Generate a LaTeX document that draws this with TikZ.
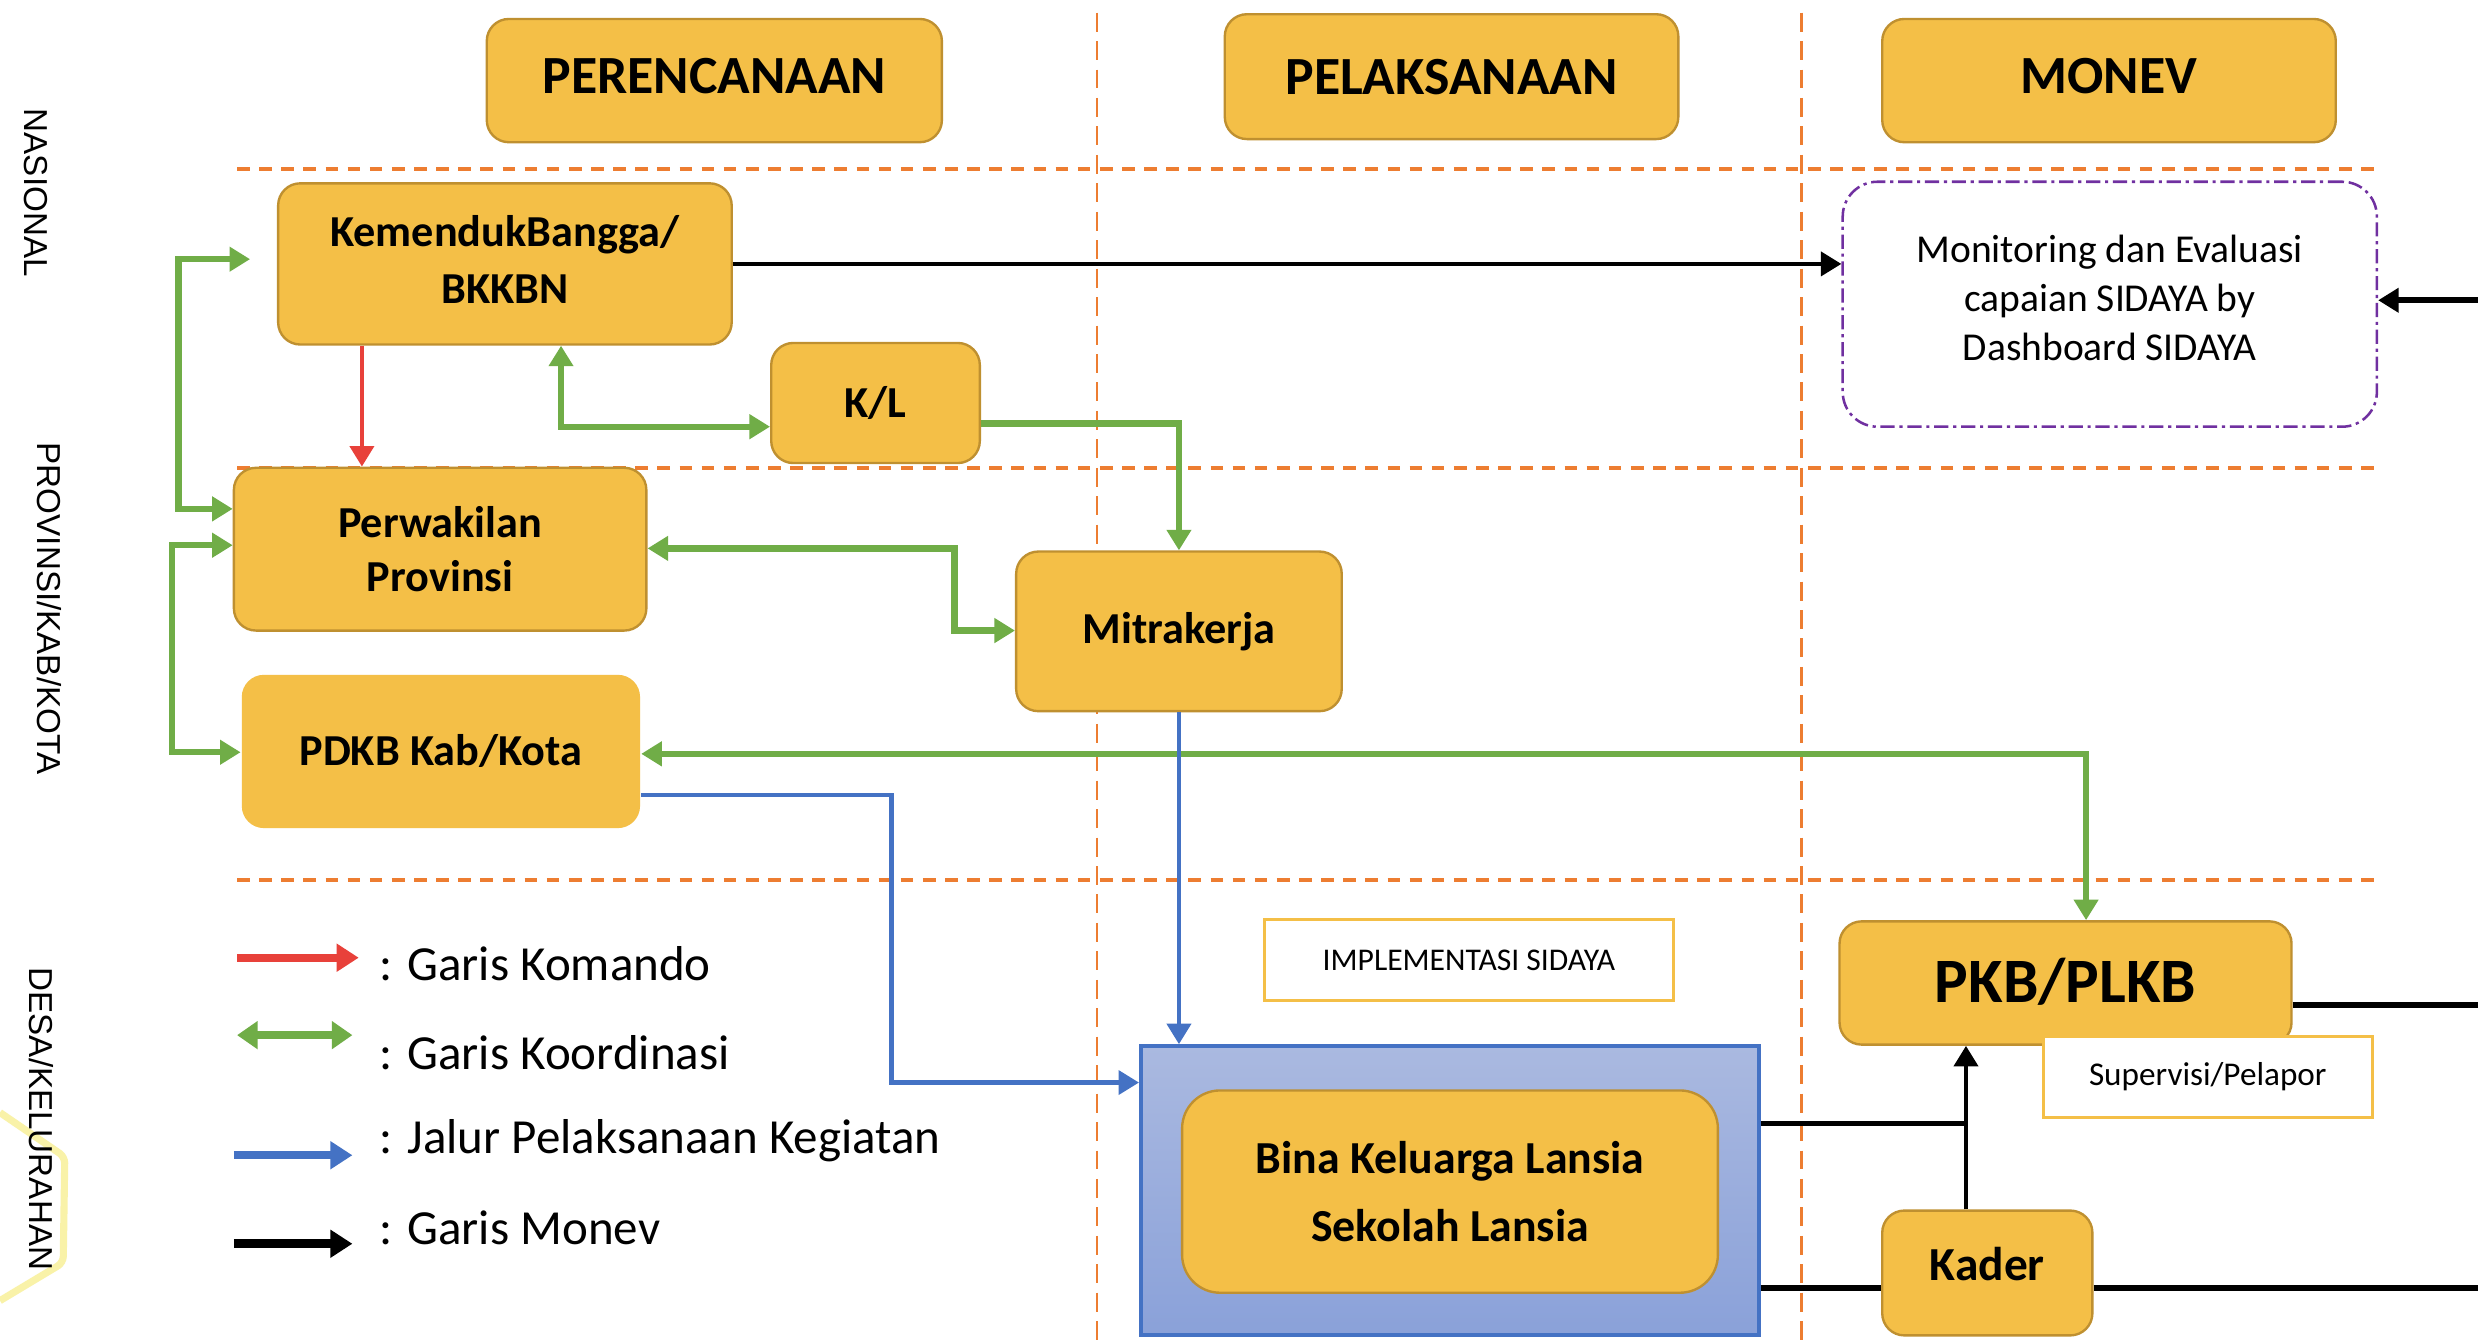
\documentclass[tikz,border=0pt]{standalone}
\usepackage{fontspec}
\setmainfont{Carlito}
\newfontfamily\sidefont{Liberation Sans}
\usetikzlibrary{arrows.meta}
\definecolor{gold}{HTML}{F4BF47}
\definecolor{goldline}{HTML}{BF9030}
\definecolor{orng}{HTML}{ED7D31}
\definecolor{grn}{HTML}{70AD47}
\definecolor{blu}{HTML}{4472C4}
\definecolor{rd}{HTML}{E8413A}
\definecolor{purp}{HTML}{7030A0}
\definecolor{bluetop}{HTML}{AAB9E0}
\definecolor{bluebot}{HTML}{8AA1D9}
\definecolor{faintyel}{HTML}{F9F2A8}
\newcommand\myfs[2]{\fontsize{#1}{#2}\selectfont}
\begin{document}
\begin{tikzpicture}[x=1pt,y=-1pt,
  goldbox/.style={draw=goldline, line width=1.5pt, fill=gold, rounded corners=14pt, inner sep=0pt, align=center},
  plainbox/.style={draw=gold, line width=1.8pt, fill=white, inner sep=0pt, align=center},
  hdash/.style={draw=orng, line width=2.5pt, dash pattern=on 8pt off 6pt},
  vdash/.style={draw=orng, line width=1.5pt, dash pattern=on 12pt off 6pt},
  tip/.style={-{Triangle[length=13pt,width=15pt]}},
  dtip/.style={{Triangle[length=13pt,width=15pt]}-{Triangle[length=13pt,width=15pt]}},
  gline/.style={draw=grn, line width=4pt},
  bline/.style={draw=blu, line width=3pt},
  rline/.style={draw=rd, line width=3pt},
  kline/.style={draw=black, line width=3pt},
  legtext/.style={anchor=west, inner sep=0pt, font=\myfs{31}{36}},
  sidelab/.style={rotate=-90, inner sep=0pt, font=\sidefont\myfs{21}{24}}
]
\useasboundingbox (0,0) rectangle (1568,848);
\fill[white] (0,0) rectangle (1568,848);

% faint shape at left
\draw[faintyel, line width=4.5pt, rounded corners=4pt] (0,704) -- (41,732) -- (40,799) -- (0,823);

% grid lines
\draw[vdash] (694,8) -- (694,848);
\draw[vdash] (1140,8) -- (1140,848);
\draw[hdash] (150,107) -- (1505,107);
\draw[hdash] (150,296) -- (1505,296);
\draw[hdash] (150,557) -- (1505,557);

% side labels
\node[sidelab] (sNas) at (23,122) {NASIONAL};
\node[sidelab] (sProv) at (31,385) {PROVINSI/KAB/KOTA};
\node[sidelab] (sDesa) at (26,708) {DESA/KELURAHAN};

% headers
\node[goldbox, minimum width=288pt, minimum height=78pt, text depth=6pt, font=\bfseries\myfs{34}{40}] (hper) at (452,51) {PERENCANAAN};
\node[goldbox, minimum width=287pt, minimum height=79pt, font=\bfseries\myfs{34}{40}] (hpel) at (918.5,48.5) {PELAKSANAAN};
\node[goldbox, minimum width=287pt, minimum height=78pt, text depth=6pt, font=\bfseries\myfs{34}{40}] (hmon) at (1334.5,51) {MONEV};

% main nodes
\node[goldbox, minimum width=287pt, minimum height=102pt, font=\bfseries\myfs{28}{36}] (kem) at (319.5,167) {};
\node[inner sep=0pt, align=center, font=\bfseries\myfs{28}{36}] (kemText) at (319.5,164) {KemendukBangga/\\BKKBN};
\node[goldbox, minimum width=132pt, minimum height=76pt, font=\bfseries\myfs{28}{34}] (kl) at (554,255) {K/L};
\node[goldbox, minimum width=261pt, minimum height=103pt, font=\bfseries\myfs{28}{34}] (per) at (278.5,347.5) {Perwakilan\\Provinsi};
\node[goldbox, draw=none, minimum width=252pt, minimum height=97pt, font=\bfseries\myfs{28}{34}] (pdkb) at (279,475.5) {PDKB Kab/Kota};
\node[goldbox, minimum width=206pt, minimum height=101pt, font=\bfseries\myfs{28}{34}] (mit) at (746,399.5) {Mitrakerja};
\node[draw=purp, line width=1.6pt, dash pattern=on 9pt off 3pt on 2pt off 3pt, rounded corners=22pt, fill=white, minimum width=338pt, minimum height=155pt, inner sep=0pt] (mon) at (1335,192.5) {};
\node[inner sep=0pt, align=center, font=\myfs{25}{31}] (monText) at (1335,188.5) {Monitoring dan Evaluasi\\capaian SIDAYA by\\Dashboard SIDAYA};

\node[plainbox, minimum width=259pt, minimum height=51pt, font=\myfs{20}{24}] (impl) at (929.5,607.5) {IMPLEMENTASI SIDAYA};
\node[goldbox, minimum width=286pt, minimum height=78pt, text depth=4pt, font=\bfseries\myfs{40}{46}] (pkb) at (1307,622) {PKB/PLKB};
\node[plainbox, minimum width=208pt, minimum height=51pt, font=\myfs{21}{24}] (sup) at (1397,681.5) {Supervisi/Pelapor};

\node[draw=blu, line width=2.5pt, top color=bluetop, bottom color=bluebot, minimum width=391pt, minimum height=183pt, inner sep=0pt] (bbox) at (917.5,753.5) {};
\node[goldbox, minimum width=339pt, minimum height=128pt, rounded corners=24pt, font=\bfseries\myfs{29}{43}] (bina) at (917.5,754) {Bina Keluarga Lansia\\Sekolah Lansia};
\node[goldbox, minimum width=133pt, minimum height=79pt, text depth=12pt, font=\bfseries\myfs{30}{36}] (kader) at (1257.5,805.5) {Kader};

% connectors
\coordinate (rx) at (229,0);
\draw[rline, tip] (kem.south -| rx) -- (per.north -| rx);

\coordinate (g1) at (355,270);
\draw[gline, dtip] (kem.south -| g1) |- (kl.west |- g1);

\coordinate (g2) at (746,268);
\draw[gline, tip] (kl.east |- g2) -| (mit.north);

\coordinate (g3a) at (604,347);
\coordinate (g3b) at (604,399);
\draw[gline, dtip] (per.east |- g3a) -- (g3a) -- (g3b) -- (mit.west |- g3b);

\coordinate (g4a) at (113,164);
\coordinate (g4b) at (113,322);
\draw[gline, dtip, shorten <=17pt] (kem.west |- g4a) -- (g4a) -- (g4b) -- (per.west |- g4b);

\coordinate (g5a) at (109,345);
\coordinate (g5b) at (109,476);
\draw[gline, dtip] (per.west |- g5a) -- (g5a) -- (g5b) -- (pdkb.west |- g5b);

\coordinate (g6) at (1320,477);
\draw[gline, dtip] (pdkb.east |- g6) -| (pkb.north -| g6);

\coordinate (b1a) at (564,503);
\coordinate (b1b) at (564,685);
\draw[bline, tip] (pdkb.east |- b1a) -- (b1a) -- (b1b) -- (bbox.west |- b1b);
\draw[bline, tip] (mit.south) -- (bbox.north -| mit.south);

\draw[kline, tip] (kem.east) -- (mon.west |- kem.east);
\coordinate (e1) at (1568,190);
\draw[kline, line width=4pt, tip] (e1) -- (mon.east |- e1);

\coordinate (k1) at (1244,711);
\draw[kline] (bbox.east |- k1) -- (k1);
\draw[kline, tip] (kader.north -| k1) -- (pkb.south -| k1);

\coordinate (e2) at (1568,636);
\draw[kline, line width=4pt] (pkb.east |- e2) -- (e2);

\coordinate (e3) at (1568,815);
\draw[kline, line width=4pt] (bbox.east |- e3) -- (kader.west |- e3);
\draw[kline, line width=4pt] (kader.east |- e3) -- (e3);

% legend
\coordinate (l1a) at (150,606);
\coordinate (l1b) at (227,606);
\draw[draw=rd, line width=5pt, -{Triangle[length=14pt,width=17pt]}] (l1a) -- (l1b);
\node[legtext] (t1) at (240,610) {: Garis Komando};

\coordinate (l2a) at (150,655);
\coordinate (l2b) at (223,655);
\draw[draw=grn, line width=5pt, {Triangle[length=13pt,width=17pt]}-{Triangle[length=13pt,width=17pt]}] (l2a) -- (l2b);
\node[legtext] (t2) at (240,666) {: Garis Koordinasi};

\coordinate (l3a) at (148,731);
\coordinate (l3b) at (223,731);
\draw[draw=blu, line width=5pt, -{Triangle[length=14pt,width=17pt]}] (l3a) -- (l3b);
\node[legtext] (t3) at (240,722) {: Jalur Pelaksanaan Kegiatan};

\coordinate (l4a) at (148,787);
\coordinate (l4b) at (223,787);
\draw[draw=black, line width=6pt, -{Triangle[length=14pt,width=17pt]}] (l4a) -- (l4b);
\node[legtext] (t4) at (240,777) {: Garis Monev};
\end{tikzpicture}
\end{document}
